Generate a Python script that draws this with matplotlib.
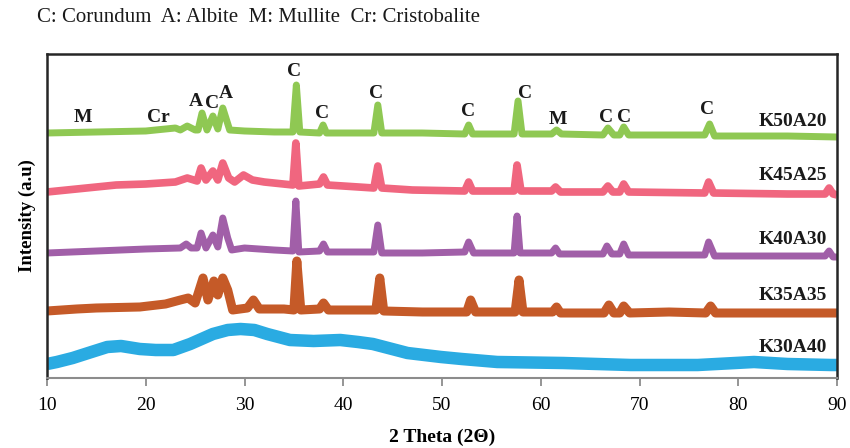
# -*- coding: utf-8 -*-
"""XRD patterns of the K/A series, stacked with peak phase labels."""
import matplotlib
matplotlib.use("Agg")
import matplotlib.pyplot as plt

plt.rcParams["font.family"] = ["Liberation Serif", "DejaVu Serif"]

# 2 theta / intensity (a.u., stacked offsets included)
k50a20_x = [10, 15, 20, 23.0, 23.5, 24.2, 25.0, 25.3, 25.7, 26.2, 26.8, 27.3,
            27.8, 28.5, 30, 33, 34.9, 35.25, 35.6, 37.6, 37.96, 38.3, 43.1,
            43.5, 43.9, 48, 52.3, 52.7, 53.1, 57.3, 57.7, 58.1, 61.1, 61.6,
            62.1, 66.3, 66.8, 67.4, 68.0, 68.4, 68.9, 76.6, 77.1, 77.6, 85, 90]
k50a20_y = [245, 246, 247, 250, 248, 252, 248, 248, 265, 248, 262, 249,
            270, 248, 247, 246, 246, 293, 246, 245, 253, 245, 245,
            273, 245, 245, 244, 253, 244, 244, 277, 244, 244, 248,
            244, 243, 250, 243, 243, 251, 243, 243, 254, 242, 242, 241]

k45a25_x = [10, 13, 17, 20, 23, 24.2, 25.2, 25.6, 26.1, 26.8, 27.3, 27.8,
            28.4, 29.0, 29.9, 30.8, 32, 34.9, 35.2, 35.5, 37.6, 38.0, 38.4,
            40, 43.1, 43.5, 43.9, 47, 52.3, 52.7, 53.1, 57.3, 57.6, 58.0,
            61.1, 61.5, 62.0, 66.3, 66.8, 67.3, 68.0, 68.4, 68.9, 76.6, 77.0,
            77.5, 85, 88.8, 89.2, 89.6, 90]
k45a25_y = [186, 189, 193, 194, 196, 200, 197, 210, 198, 207, 198, 215,
            200, 196, 203, 198, 196, 193, 235, 192, 194, 201, 193,
            192, 190, 212, 190, 188, 187, 196, 187, 187, 213, 187,
            187, 191, 186, 186, 192, 186, 186, 194, 186, 185, 196,
            185, 184, 184, 190, 184, 183]

k40a30_x = [10, 15, 20, 23.5, 24.1, 24.6, 25.2, 25.6, 26.1, 26.8, 27.3, 27.8,
            28.3, 28.7, 30, 33, 34.9, 35.2, 35.5, 37.6, 38.0, 38.4, 43.1,
            43.5, 43.9, 48, 52.3, 52.7, 53.2, 57.3, 57.6, 57.9, 61.1, 61.5,
            61.9, 66.3, 66.7, 67.2, 68.0, 68.4, 68.9, 76.6, 77.0, 77.6, 85,
            88.8, 89.2, 89.6, 90]
k40a30_y = [125, 127, 129, 130, 134, 130, 130, 145, 130, 143, 131, 160,
            140, 128, 130, 128, 127, 177, 126, 127, 134, 126, 126,
            153, 125, 125, 126, 136, 125, 125, 162, 125, 125, 130,
            124, 124, 132, 124, 124, 134, 123, 123, 136, 122, 122,
            122, 127, 121, 121]

k35a35_x = [10, 13, 15, 19.4, 22, 23.5, 24.3, 25.0, 25.8, 26.3, 26.9, 27.3,
            27.8, 28.3, 28.8, 30.3, 30.9, 31.5, 34, 35.0, 35.3, 35.7, 37.6,
            38.0, 38.5, 41, 43.3, 43.7, 44.1, 48, 52.5, 52.9, 53.4, 57.4,
            57.8, 58.2, 61.2, 61.6, 62.0, 66.4, 66.9, 67.4, 68.0, 68.4, 69,
            73, 76.7, 77.2, 77.7, 85, 90]
k35a35_y = [67, 69, 70, 71, 74, 78, 80, 75, 100, 78, 97, 83,
            100, 88, 68, 70, 78, 69, 69, 68, 117, 68, 69,
            75, 68, 68, 68, 100, 67, 66, 66, 78, 66, 66,
            98, 66, 66, 71, 65, 65, 73, 65, 65, 72, 65,
            66, 65, 72, 65, 65, 65]

k30a40_x = [10, 11, 12.6, 14.5, 16.1, 17.5, 19.4, 21, 22.8, 24.5, 26.8, 28.3,
            29.6, 31, 32.3, 34.6, 37, 39.7, 41.5, 43, 46.5, 49.9, 52, 55.6,
            62.3, 69.1, 75.9, 81.6, 85, 89.4, 90]
k30a40_y = [14, 16, 20, 26, 31, 32, 29, 28, 28, 34, 44, 48,
            49, 48, 44, 38, 37, 38, 36, 34, 25, 21, 19, 16,
            15, 13, 13, 16, 14, 13, 13]

sample_names = ["K50A20", "K45A25", "K40A30", "K35A35", "K30A40"]
sample_label_y = [257, 202, 139, 82, 31]
colors = ["#8fc853", "#f0667f", "#a15fa8", "#c55a28", "#2aabe2"]
widths = [5.0, 5.5, 5.0, 6.5, 9.0]

# phase labels above the K50A20 pattern
phase_labels = ["M", "Cr", "A", "C", "A", "C", "C", "C", "C", "C", "M", "C",
                "C", "C"]
phase_x = [13.65, 21.3, 25.1, 26.7, 28.15, 35.0, 37.9, 43.3, 52.6, 58.4,
           61.7, 66.6, 68.4, 76.8]
phase_y = [261, 261, 276, 275, 285, 307, 265, 285, 266, 285, 259, 261,
           261, 269]

xticks = [10, 20, 30, 40, 50, 60, 70, 80, 90]


def main():
    fig = plt.figure(figsize=(8.5, 4.48), dpi=100)
    ax = fig.add_axes([47 / 850, 1 - 378 / 448, 790 / 850, 324 / 448])

    series = [(k50a20_x, k50a20_y), (k45a25_x, k45a25_y),
              (k40a30_x, k40a30_y), (k35a35_x, k35a35_y),
              (k30a40_x, k30a40_y)]
    for (x, y), c, lw in zip(series, colors, widths):
        ax.plot(x, y, color=c, lw=lw, solid_joinstyle="round",
                solid_capstyle="butt")

    for name, y in zip(sample_names, sample_label_y):
        ax.text(89.0, y, name, ha="right", va="center", fontsize=14,
                fontweight="bold", color="#1a1a1a")

    for lab, x, y in zip(phase_labels, phase_x, phase_y):
        ax.text(x, y, lab, ha="center", va="center", fontsize=14,
                fontweight="bold", color="#1a1a1a")

    ax.set_xlim(10, 90)
    ax.set_ylim(0, 324)
    ax.set_xticks(xticks)
    ax.set_yticks([])
    ax.tick_params(axis="x", direction="out", length=6, width=1.3,
                   color="#8c8c8c", labelsize=14, pad=8)
    for side in ["left", "top", "right"]:
        ax.spines[side].set_color("#262626")
        ax.spines[side].set_linewidth(1.8)
    ax.spines["bottom"].set_color("#8c8c8c")
    ax.spines["bottom"].set_linewidth(1.5)

    ax.set_xlabel("2 Theta (2\u0398)", fontsize=14, fontweight="bold",
                  labelpad=10)
    ax.set_ylabel("Intensity (a.u)", fontsize=13.5, fontweight="bold",
                  labelpad=8)

    fig.text(37 / 850, 1 - 17 / 448,
             "C: Corundum  A: Albite  M: Mullite  Cr: Cristobalite",
             ha="left", va="center", fontsize=15, color="#1a1a1a")

    fig.savefig("out.png", dpi=100)


if __name__ == "__main__":
    main()
